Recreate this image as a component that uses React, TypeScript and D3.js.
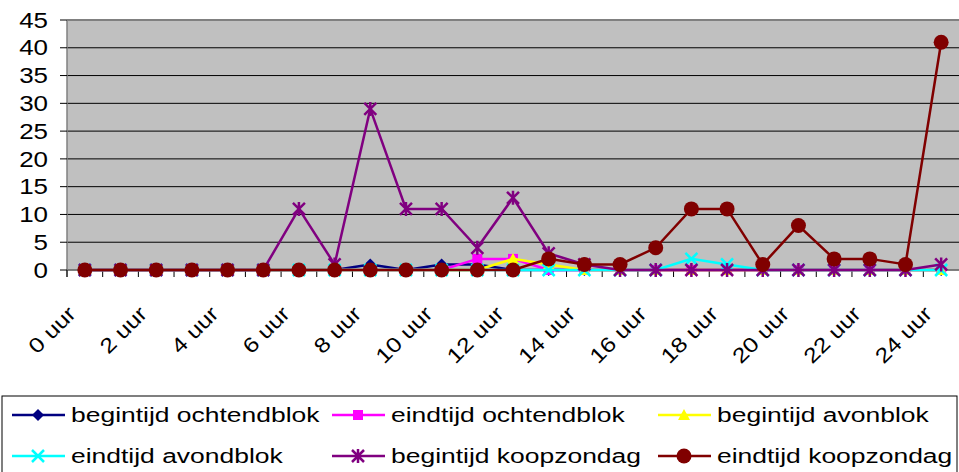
import React from "react";
import * as d3 from "d3";

const categories = Array.from({ length: 25 }, (_, i) => `${i} uur`);
const begintijdOchtendblok = [0,0,0,0,0,0,0,0,1,0,1,1,0,0,0,0,0,0,0,0,0,0,0,0,0];
const eindtijdOchtendblok = [0,0,0,0,0,0,0,0,0,0,0,2,2,0,0,0,0,0,0,0,0,0,0,0,0];
const begintijdAvonblok = [0,0,0,0,0,0,0,0,0,0,0,0,2,1,0,0,0,0,0,0,0,0,0,0,0];
const eindtijdAvondblok = [0,0,0,0,0,0,0,0,0,0,0,0,0,0,0,0,0,2,1,0,0,0,0,0,0];
const begintijdKoopzondag = [0,0,0,0,0,0,11,1,29,11,11,4,13,3,1,0,0,0,0,0,0,0,0,0,1];
const eindtijdKoopzondag = [0,0,0,0,0,0,0,0,0,0,0,0,0,2,1,1,4,11,11,1,8,2,2,1,41];
const yTicks = [0,5,10,15,20,25,30,35,40,45];

const series = [
  { name: "begintijd ochtendblok", values: begintijdOchtendblok, color: "#000080", marker: "diamond" },
  { name: "eindtijd ochtendblok", values: eindtijdOchtendblok, color: "#FF00FF", marker: "square" },
  { name: "begintijd avonblok", values: begintijdAvonblok, color: "#FFFF00", marker: "triangle" },
  { name: "eindtijd avondblok", values: eindtijdAvondblok, color: "#00FFFF", marker: "x" },
  { name: "begintijd koopzondag", values: begintijdKoopzondag, color: "#800080", marker: "star" },
  { name: "eindtijd koopzondag", values: eindtijdKoopzondag, color: "#800000", marker: "circle" },
];

const W = 959, H = 472;
const left = 67, right = 959, top = 20, bottom = 270;
const font = "'Liberation Sans', Arial, sans-serif";

function Marker({ type, x, y, color }: { type: string; x: number; y: number; color: string }) {
  const s = 5;
  switch (type) {
    case "diamond":
      return <path d={`M${x},${y - 6}L${x + 6},${y}L${x},${y + 6}L${x - 6},${y}Z`} fill={color} />;
    case "square":
      return <rect x={x - s} y={y - s} width={2 * s} height={2 * s} fill={color} />;
    case "triangle":
      return <path d={`M${x},${y - 6}L${x + 6},${y + 5}L${x - 6},${y + 5}Z`} fill={color} />;
    case "x":
      return <path d={`M${x - 6},${y - 6}L${x + 6},${y + 6}M${x + 6},${y - 6}L${x - 6},${y + 6}`} stroke={color} strokeWidth={2.5} />;
    case "star":
      return <path d={`M${x - 6},${y - 6}L${x + 6},${y + 6}M${x + 6},${y - 6}L${x - 6},${y + 6}M${x},${y - 7}L${x},${y + 7}`} stroke={color} strokeWidth={2.5} />;
    case "circle":
      return <circle cx={x} cy={y} r={7.5} fill={color} />;
    default:
      return null;
  }
}

export default function App() {
  const x = d3.scaleBand<string>().domain(categories).range([left, right]);
  const y = d3.scaleLinear().domain([0, 45]).range([bottom, top]);
  const cx = (c: string) => (x(c) as number) + x.bandwidth() / 2;
  const line = d3.line<number>().x((_, i) => cx(categories[i])).y((d) => y(d));

  const legendCols = [12, 332, 658];
  const legendRows = [415, 456];

  return (
    <svg width={W} height={H} style={{ position: "absolute", left: 0, top: 0 }} fontFamily={font}>
      <rect x={left} y={top} width={right - left} height={bottom - top} fill="#C0C0C0" />
      {yTicks.map((t) => (
        <line key={t} x1={left} x2={right} y1={y(t)} y2={y(t)} stroke={t === 45 ? "#808080" : "#000"} strokeWidth={t === 45 ? 2 : 1} />
      ))}
      <line x1={left} x2={left} y1={top} y2={bottom + 7} stroke="#808080" strokeWidth={1.5} />
      <line x1={left} x2={right} y1={bottom} y2={bottom} stroke="#808080" strokeWidth={1.5} />
      {yTicks.map((t) => (
        <g key={"yt" + t}>
          <line x1={left - 7} x2={left} y1={y(t)} y2={y(t)} stroke="#000" />
          <text transform={`translate(48,${y(t)}) scale(1.18,1)`} dy="0.35em" textAnchor="end" fontSize={22}>{t}</text>
        </g>
      ))}
      {categories.map((c, i) => (
        <line key={"xt" + i} x1={x(c) as number} x2={x(c) as number} y1={bottom} y2={bottom + 7} stroke="#000" />
      ))}
      {categories.map((c, i) =>
        i % 2 === 0 ? (
          <text key={"xl" + i} transform={`translate(${cx(c) - 13},${bottom + 40}) rotate(-45) scale(1.18,1)`} textAnchor="end" dy="0.35em" fontSize={21}>
            {c}
          </text>
        ) : null
      )}
      {series.map((s) => (
        <g key={s.name}>
          <path d={line(s.values) as string} fill="none" stroke={s.color} strokeWidth={2.5} />
          {s.values.map((v, i) => (
            <Marker key={i} type={s.marker} x={cx(categories[i])} y={y(v)} color={s.color} />
          ))}
        </g>
      ))}
      <rect x={2} y={396} width={955} height={80} fill="none" stroke="#000" strokeWidth={1} />
      {series.map((s, i) => {
        const lx = legendCols[i % 3];
        const ly = legendRows[Math.floor(i / 3)];
        return (
          <g key={"lg" + i}>
            <line x1={lx} x2={lx + 53} y1={ly} y2={ly} stroke={s.color} strokeWidth={2.5} />
            <Marker type={s.marker} x={lx + 26} y={ly} color={s.color} />
            <text transform={`translate(${lx + 59},${ly}) scale(1.26,1)`} dy="0.35em" fontSize={21}>{s.name}</text>
          </g>
        );
      })}
    </svg>
  );
}
